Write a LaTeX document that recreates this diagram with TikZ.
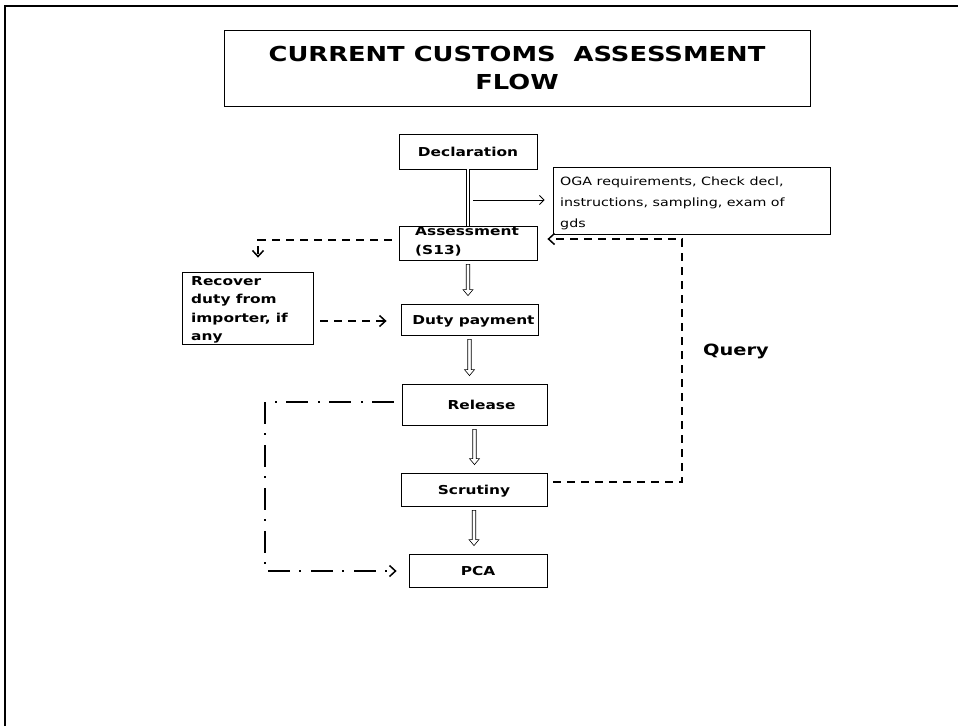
\documentclass[tikz,border=0pt]{standalone}
\usepackage{fontspec}
\setmainfont{DejaVu Sans}[FakeStretch=1.25]
\usetikzlibrary{arrows.meta,calc}

% hollow block arrow pointing down from node #1 to node #2
\newcommand\flowarrow[2]{%
  \draw[flowline]
    ($(#1.south)+(-1.75,4)$) -- ($(#1.south |- #2.north)+(-1.75,-14)$)
    -- ($(#1.south |- #2.north)+(-5,-14)$) -- ($(#1.south |- #2.north)+(0,-8)$)
    -- ($(#1.south |- #2.north)+(5,-14)$) -- ($(#1.south |- #2.north)+(1.75,-14)$)
    -- ($(#1.south)+(1.75,4)$) -- cycle;}

\begin{document}
\begin{tikzpicture}[x=1pt,y=-1pt,
  box/.style={draw, line width=0.8pt, rectangle, inner sep=0pt},
  lbl/.style={font=\fontsize{12.3}{18.5}\selectfont\bfseries, text height=9pt, text depth=0pt},
  multi/.style={font=\fontsize{12.3}{18.5}\selectfont\bfseries, align=left, anchor=base west, inner sep=0pt},
  flowline/.style={line width=0.6pt},
  qdash/.style={line width=1.4pt, dash pattern=on 8pt off 6pt},
  dashdot/.style={line width=1.1pt, dash pattern=on 22pt off 9pt on 2pt off 10pt},
  barb/.style={-{Straight Barb[length=6pt,width=11pt,line width=1.5pt]}},
  thinbarb/.style={line width=0.8pt, -{Straight Barb[length=4.5pt,width=9pt,line width=0.9pt]}}
]
\useasboundingbox (0,0) rectangle (958,726);
\fill[white] (0,0) rectangle (958,726);

% page frame (top and left edges)
\draw[line width=1.8pt] (5,726) -- (5,6) -- (958,6);

% title
\node[box, minimum width=586pt, minimum height=76pt, align=center,
      font=\fontsize{20.6}{28}\selectfont\bfseries] (title) at (517,68)
  {CURRENT CUSTOMS\ \ ASSESSMENT\\FLOW};

% process boxes
\node[box, lbl, minimum width=138pt, minimum height=35pt] (decl) at (468,151.5) {Declaration};
\node[box, minimum width=138pt, minimum height=34pt] (assess) at (468,243) {};
\node[multi] (assesst) at (415,254) {Assessment\\(S13)};
\node[box, lbl, minimum width=137pt, minimum height=31pt] (duty) at (469.5,319.5) {\hspace*{8pt}Duty payment};
\node[box, lbl, minimum width=145pt, minimum height=41pt] (release) at (474.5,404.5) {\hspace*{14pt}Release};
\node[box, lbl, minimum width=146pt, minimum height=33pt] (scrutiny) at (474,489.5) {Scrutiny};
\node[box, lbl, minimum width=138pt, minimum height=33pt] (pca) at (478,570.5) {PCA};

% side boxes
\node[box, minimum width=277pt, minimum height=67pt] (oga) at (691.5,200.5) {};
\node[anchor=base west, inner sep=0pt, align=left,
      font=\fontsize{11.4}{21}\selectfont] (ogat) at (560,227)
  {OGA requirements, Check decl,\\instructions, sampling, exam of\\gds};
\node[box, minimum width=131pt, minimum height=72pt] (recover) at (247.5,308) {};
\node[multi] (recovert) at (191,340.5) {Recover\\duty from\\importer, if\\any};

% query label
\node[anchor=base west, inner sep=0pt, font=\fontsize{15.5}{18}\selectfont\bfseries] (query) at (703,355) {Query};

% main flow
\draw[line width=0.8pt, double, double distance=2.2pt] (decl.south) -- (assess.north);
\coordinate (tap) at (473,200);
\draw[thinbarb] (tap) -- ([xshift=-8pt]oga.west |- tap);
\flowarrow{assess}{duty}
\flowarrow{duty}{release}
\flowarrow{release}{scrutiny}
\flowarrow{scrutiny}{pca}

% dashed side loops
\coordinate (rc) at (258,240);
\draw[qdash, barb] ([xshift=-7pt]assess.west |- rc) -- (rc) -- ($(rc |- recover.north)+(0,-14)$);
\draw[qdash, barb] ([xshift=7pt]recover.east |- 0,321) -- ([xshift=-14pt]duty.west |- 0,321);
\coordinate (q1) at (682,482);
\coordinate (q2) at (682,239);
\draw[qdash, barb] ([xshift=6pt]scrutiny.east |- q1) -- (q1) -- (q2) -- ([xshift=10pt]assess.east |- q2);

% dash-dot loop
\coordinate (d1) at (265,402);
\coordinate (d2) at (265,571);
\draw[dashdot, barb] ([xshift=-8pt]release.west |- d1) -- (d1) -- (d2) -- ([xshift=-12pt]pca.west |- d2);
\end{tikzpicture}
\end{document}
